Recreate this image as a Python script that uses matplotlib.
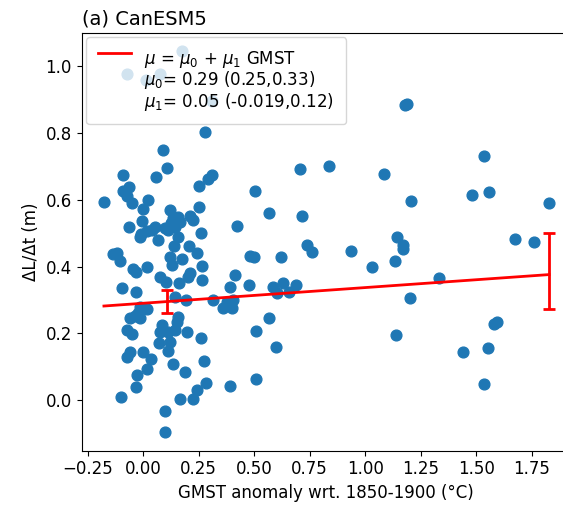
import matplotlib
matplotlib.use("Agg")
import matplotlib.pyplot as plt
from matplotlib.lines import Line2D
from matplotlib.legend_handler import HandlerLine2D
import numpy as np

# GMST anomaly (x) and dL/dt (y) for each ensemble member / period
gmst = [
    -0.074, 0.011, 0.076, 0.176, 0.31,
    0.28, 0.091, 0.109, -0.092, 0.059, 0.309, 0.29, 0.253, -0.063, -0.092, -0.074,
    -0.052, -0.177, 0.023, 0.0, 0.504, 0.565, 0.251, 0.121, 0.158, 0.211, 0.226,
    0.136, 0.166, -0.004, 0.124, -0.063, 0.424, 0.053, 0.098, 0.143, 0.038, 0.016,
    -0.014, -0.01, 0.065, 0.113, 0.158, 0.259, 0.139, 0.208, -0.135, -0.12, -0.105,
    0.121, 0.173, 0.241, 0.128, 0.016, 0.263, -0.047, -0.032, 0.076, 0.413, 0.211,
    0.103, 0.16, 0.203, 0.266, -0.097, -0.032, 0.391, 0.477, 0.585, 0.62, 0.48, 0.50,
    0.143, 0.193, 0.316, 0.361, 0.399, 0.376, 0.406, 0.016, -0.014, -0.022, -0.037,
    -0.06, -0.014, -0.074, -0.052, 0.083, 0.076, 0.073, 0.113, 0.121, 0.113, 0.151,
    0.158, 0.143, 0.196, 0.26, 0.507, 0.568, 0.598, -0.06, -0.074, -0.002, 0.034,
    0.133, 0.274, 0.016, 0.188, -0.029, -0.032, -0.101, 0.281, 0.244, 0.166, 0.226,
    0.391, 0.507, 0.098, 0.098,
    0.706, 0.838, 1.086, 1.537, 1.482, 1.559, 1.828, 1.206, 0.714, 0.739, 0.762,
    0.936, 1.029, 1.142, 1.169, 1.172, 1.134, 1.675, 1.762, 1.332, 0.628, 0.604,
    0.658, 0.688, 1.202, 1.139, 1.592, 1.58, 1.555, 1.439, 1.537, 1.18, 1.19,
]
dldt = [
    0.978, 0.96, 0.977, 1.047, 0.897,
    0.803, 0.748, 0.695, 0.673, 0.667, 0.675, 0.662, 0.64, 0.638, 0.625, 0.61,
    0.592, 0.595, 0.6, 0.573, 0.625, 0.56, 0.578, 0.57, 0.55, 0.552, 0.54,
    0.545, 0.535, 0.538, 0.53, 0.52, 0.522, 0.52, 0.515, 0.52, 0.51, 0.507,
    0.49, 0.498, 0.48, 0.51, 0.49, 0.5, 0.462, 0.462, 0.437, 0.442, 0.418,
    0.43, 0.422, 0.44, 0.405, 0.4, 0.402, 0.392, 0.385, 0.37, 0.375, 0.38,
    0.355, 0.352, 0.37, 0.36, 0.335, 0.325, 0.338, 0.344, 0.338, 0.43, 0.432, 0.43,
    0.31, 0.30, 0.30, 0.275, 0.275, 0.295, 0.30, 0.272, 0.28, 0.26, 0.252,
    0.245, 0.245, 0.21, 0.198, 0.225, 0.205, 0.17, 0.205, 0.175, 0.148, 0.235,
    0.25, 0.21, 0.205, 0.185, 0.208, 0.245, 0.159, 0.145, 0.13, 0.145, 0.123,
    0.107, 0.117, 0.092, 0.085, 0.075, 0.038, 0.01, 0.052, 0.03, 0.003, 0.002,
    0.042, 0.064, -0.033, -0.097,
    0.692, 0.702, 0.677, 0.732, 0.614, 0.622, 0.592, 0.596, 0.553, 0.465, 0.443,
    0.446, 0.4, 0.488, 0.465, 0.453, 0.417, 0.483, 0.475, 0.366, 0.352, 0.322,
    0.323, 0.345, 0.305, 0.194, 0.233, 0.228, 0.155, 0.144, 0.048, 0.885, 0.888,
]

# Fitted relation and confidence intervals
mu0 = 0.29
mu1 = 0.047
ci_x = [0.106, 1.828]
ci_low = [0.262, 0.272]
ci_high = [0.330, 0.502]

title = "(a) CanESM5"
xlabel = "GMST anomaly wrt. 1850-1900 (°C)"
ylabel = "ΔL/Δt (m)"
leg_labels = [r"$\mu$ = $\mu_0$ + $\mu_1$ GMST",
              r"$\mu_0$= 0.29 (0.25,0.33)",
              r"$\mu_1$= 0.05 (-0.019,0.12)"]

plt.rcParams['font.size'] = 12


class RaisedLine(HandlerLine2D):
    def create_artists(self, legend, orig_handle, xdescent, ydescent,
                       width, height, fontsize, trans):
        return super().create_artists(legend, orig_handle, xdescent,
                                      ydescent - 8.0, width, height,
                                      fontsize, trans)


fig = plt.figure(figsize=(5.63, 5.05), dpi=100)
ax = fig.add_axes([81.5/563, (505-450.7)/505, 488/563, (450.7-32.7)/505])

ax.scatter(gmst, dldt, s=60, color='#1f77b4', zorder=2)

xs = np.array([min(gmst), max(gmst)])
ax.plot(xs, mu0 + mu1*xs, color='red', lw=2, zorder=3)

ci_x = np.array(ci_x)
centre = mu0 + mu1*ci_x
ax.errorbar(ci_x, centre,
            yerr=[centre - np.array(ci_low), np.array(ci_high) - centre],
            fmt='none', ecolor='red', elinewidth=2, capsize=4, capthick=2, zorder=3)

ax.set_xlim(-0.278, 1.92)
ax.set_ylim(-0.152, 1.101)
ax.set_xticks([-0.25, 0, 0.25, 0.5, 0.75, 1.0, 1.25, 1.5, 1.75])
ax.set_yticks([0, 0.2, 0.4, 0.6, 0.8, 1.0])
ax.set_xlabel(xlabel)
ax.set_ylabel(ylabel)
ax.set_title(title, loc='left', fontsize=14)

red = Line2D([], [], color='red', lw=2)
handles = [red,
           Line2D([], [], linestyle='none'),
           Line2D([], [], linestyle='none')]
ax.legend(handles, leg_labels, loc='upper left', labelspacing=-0.04,
          borderpad=0.7, borderaxespad=0.28, handler_map={red: RaisedLine()})

fig.savefig("out.png", dpi=100)
